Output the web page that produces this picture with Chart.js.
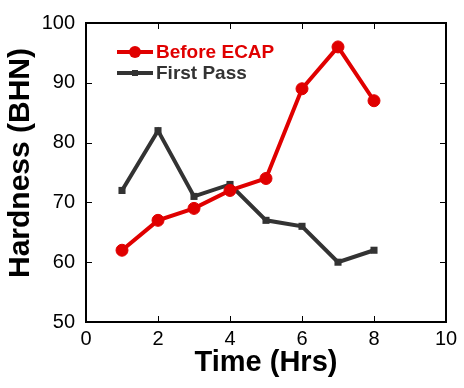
<!DOCTYPE html>
<html>
<head>
<meta charset="utf-8">
<script src="https://cdn.jsdelivr.net/npm/chart.js@4"></script>
<style>
  html, body { margin: 0; padding: 0; background: #fff; }
  #wrap { width: 464px; height: 388px; }
</style>
</head>
<body>
<div id="wrap"><canvas id="hardnessChart" width="464" height="388"></canvas></div>
<script>
// Data
const timeHrs = [1, 2, 3, 4, 5, 6, 7, 8];
const beforeEcap = [62, 67, 69, 72, 74, 89, 96, 87];
const firstPass = [72, 82, 71, 73, 67, 66, 60, 62];
const xTicks = [0, 2, 4, 6, 8, 10];
const yTicks = [50, 60, 70, 80, 90, 100];

const RED = '#e00000';
const GREY = '#333333';
const FONT = "'Liberation Sans', Arial, sans-serif";

function toPoints(ys) {
    return timeHrs.map((x, i) => ({ x: x, y: ys[i] }));
}

// Frame, inward ticks on all four sides, axis titles and the in-plot legend
const framePlugin = {
    id: 'frame',
    afterDraw(chart) {
        const ctx = chart.ctx;
        const area = chart.chartArea;
        const xs = chart.scales.x;
        const ys = chart.scales.y;
        const tick = 6;

        ctx.save();
        ctx.strokeStyle = '#000';
        ctx.lineWidth = 2;
        ctx.strokeRect(area.left, area.top, area.right - area.left, area.bottom - area.top);

        ctx.lineWidth = 1;
        ctx.beginPath();
        xTicks.forEach(v => {
            const px = Math.round(xs.getPixelForValue(v)) + 0.5;
            ctx.moveTo(px, area.bottom);
            ctx.lineTo(px, area.bottom - tick);
            ctx.moveTo(px, area.top);
            ctx.lineTo(px, area.top + tick);
        });
        yTicks.forEach(v => {
            const py = Math.round(ys.getPixelForValue(v)) + 0.5;
            ctx.moveTo(area.left, py);
            ctx.lineTo(area.left + tick, py);
            ctx.moveTo(area.right, py);
            ctx.lineTo(area.right - tick, py);
        });
        ctx.stroke();

        // axis titles
        ctx.fillStyle = '#000';
        ctx.textAlign = 'center';
        ctx.textBaseline = 'middle';
        ctx.font = 'bold 29px ' + FONT;
        ctx.fillText('Time (Hrs)', (area.left + area.right) / 2, 363);

        ctx.save();
        ctx.translate(21, 163);
        ctx.rotate(-Math.PI / 2);
        ctx.font = 'bold 30px ' + FONT;
        ctx.fillText('Hardness (BHN)', 0, 0);
        ctx.restore();

        // legend
        const rows = [
            { ds: chart.data.datasets[0], y: 52 },
            { ds: chart.data.datasets[1], y: 73 }
        ];
        rows.forEach(row => {
            ctx.strokeStyle = row.ds.borderColor;
            ctx.lineWidth = 4;
            ctx.beginPath();
            ctx.moveTo(117, row.y);
            ctx.lineTo(153, row.y);
            ctx.stroke();

            ctx.fillStyle = row.ds.borderColor;
            if (row.ds.pointStyle === 'circle') {
                ctx.beginPath();
                ctx.arc(135, row.y, 6, 0, Math.PI * 2);
                ctx.fill();
            } else {
                ctx.fillRect(132, row.y - 3, 6, 6);
            }

            ctx.font = 'bold 19px ' + FONT;
            ctx.textAlign = 'left';
            ctx.textBaseline = 'middle';
            ctx.fillText(row.ds.label, 156, row.y + 1);
        });
        ctx.restore();
    }
};

const ctx = document.getElementById('hardnessChart').getContext('2d');
new Chart(ctx, {
    type: 'line',
    data: {
        datasets: [{
            label: 'Before ECAP',
            data: toPoints(beforeEcap),
            borderColor: RED,
            backgroundColor: RED,
            borderWidth: 4,
            pointStyle: 'circle',
            pointRadius: 6,
            pointBorderWidth: 1,
            tension: 0,
            order: 1
        }, {
            label: 'First Pass',
            data: toPoints(firstPass),
            borderColor: GREY,
            backgroundColor: GREY,
            borderWidth: 4,
            pointStyle: 'rect',
            pointRadius: 5,
            pointBorderWidth: 0,
            tension: 0,
            order: 2
        }]
    },
    options: {
        responsive: false,
        animation: false,
        layout: { padding: { top: 21, right: 18, left: 0, bottom: 0 } },
        plugins: {
            legend: { display: false },
            tooltip: { enabled: false }
        },
        scales: {
            x: {
                type: 'linear',
                min: 0,
                max: 10,
                afterFit: scale => { scale.height = 66; },
                afterBuildTicks: scale => { scale.ticks = xTicks.map(v => ({ value: v })); },
                grid: { display: false, drawTicks: false },
                border: { display: false },
                ticks: { color: '#000', padding: 5, font: { family: FONT, size: 20 } }
            },
            y: {
                min: 50,
                max: 100,
                afterFit: scale => { scale.width = 86; },
                afterBuildTicks: scale => { scale.ticks = yTicks.map(v => ({ value: v })); },
                grid: { display: false, drawTicks: false },
                border: { display: false },
                ticks: { color: '#000', padding: 11, font: { family: FONT, size: 20 } }
            }
        }
    },
    plugins: [framePlugin]
});
</script>
</body>
</html>
